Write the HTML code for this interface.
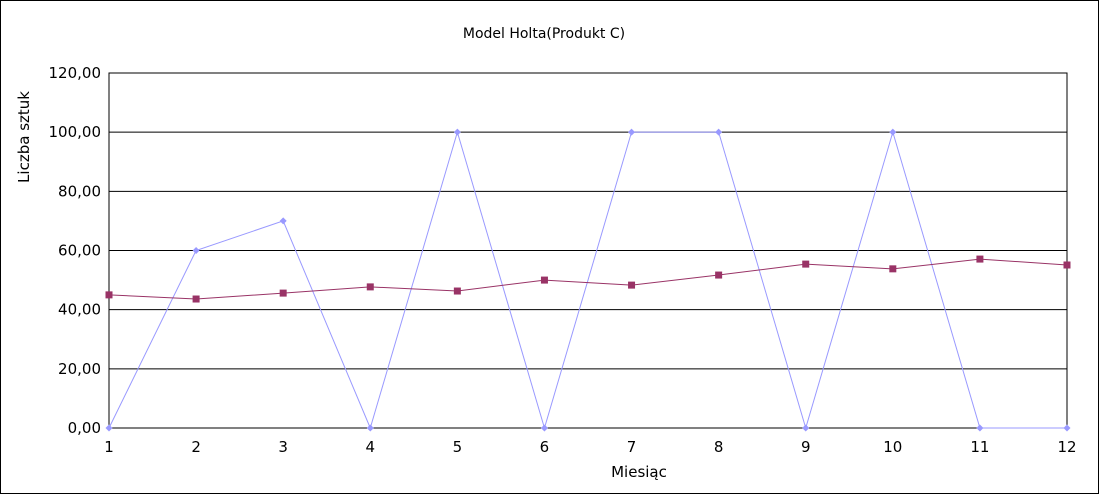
<!DOCTYPE html>
<html><head><meta charset="utf-8"><style>
body{margin:0;background:#fff}
svg{display:block;font-family:"DejaVu Sans","Liberation Sans",sans-serif}
</style></head><body>
<svg id="chart" width="1099" height="494">
<rect x="0.5" y="0.5" width="1098" height="493" fill="#fff" stroke="#000"/>
<text x="544" y="38" text-anchor="middle" font-size="14" fill="#000">Model Holta(Produkt C)</text>
<text x="639" y="477" text-anchor="middle" font-size="15" fill="#000">Miesiąc</text>
<text transform="translate(29,137) rotate(-90)" text-anchor="middle" font-size="15" fill="#000">Liczba sztuk</text>
<g id="grid"></g><g id="series"></g>
</svg>
<script>
const categories=[1,2,3,4,5,6,7,8,9,10,11,12];
const actual=[0,60,70,0,100,0,100,100,0,100,0,0];
const forecast=[45.0,43.6,45.6,47.7,46.3,50.0,48.3,51.7,55.4,53.8,57.1,55.1];
const yTicks=[0,20,40,60,80,100,120];
const yTickLabels=["0,00","20,00","40,00","60,00","80,00","100,00","120,00"];
const NS="http://www.w3.org/2000/svg";
const L=109,R=1067,T=73,B=428,YMAX=120;
const xs=i=>L+(R-L)*i/(categories.length-1);
const ys=v=>B-(B-T)*v/YMAX;
function mk(tag,at,parent){const e=document.createElementNS(NS,tag);for(const k in at)e.setAttribute(k,at[k]);parent.appendChild(e);return e;}
const g=document.getElementById('grid'),s=document.getElementById('series');
yTicks.forEach((v,i)=>{
 const ln=mk('line',{x1:L,x2:R,y1:ys(v),y2:ys(v),stroke:'#000','stroke-width':1},g);
 
 
 const t=mk('text',{x:L-8,y:ys(v)+5,'text-anchor':'end','font-size':15},g);t.textContent=yTickLabels[i];
 
 
});
const fr=mk('rect',{x:L,y:T,width:R-L,height:B-T,fill:'none',stroke:'#000'},g);


categories.forEach((c,i)=>{
 const t=mk('text',{x:xs(i),y:452,'text-anchor':'middle','font-size':15},g);t.textContent=c;
 
 
});
const p1=mk('polyline',{points:actual.map((v,i)=>xs(i)+','+ys(v)).join(' '),fill:'none',stroke:'#9999ff','stroke-width':1},s);


actual.forEach((v,i)=>{const x=xs(i),y=ys(v);
 const m=mk('polygon',{points:`${x},${y-3.5} ${x+3.5},${y} ${x},${y+3.5} ${x-3.5},${y}`,fill:'#9999ff'},s);
 
 });
const p2=mk('polyline',{points:forecast.map((v,i)=>xs(i)+','+ys(v)).join(' '),fill:'none',stroke:'#993366','stroke-width':1},s);


forecast.forEach((v,i)=>{
 const m=mk('rect',{x:xs(i)-3.5,y:ys(v)-3.5,width:7,height:7,fill:'#993366'},s);
 
 });
</script>
</body></html>
